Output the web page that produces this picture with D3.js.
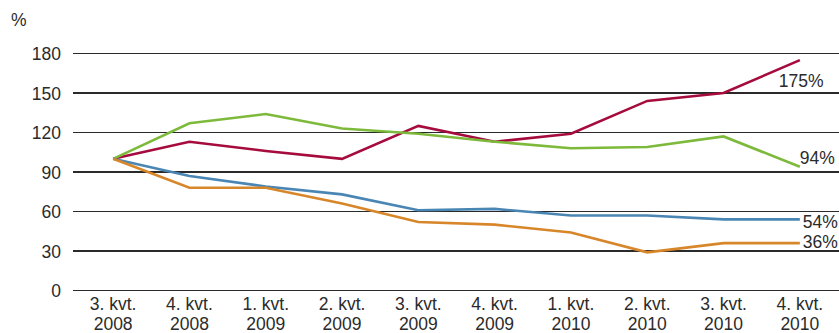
<!DOCTYPE html>
<html>
<head>
<meta charset="utf-8">
<script src="https://cdn.jsdelivr.net/npm/d3@7"></script>
<style>
  html, body { margin: 0; padding: 0; background: #fff; }
  svg { display: block; font-family: "Liberation Sans", Arial, sans-serif; }
</style>
</head>
<body>
<svg id="chart" width="839" height="333"></svg>
<script>
// Quarter categories (two-line labels)
const quarters = [
  ["3. kvt.", "2008"], ["4. kvt.", "2008"], ["1. kvt.", "2009"], ["2. kvt.", "2009"],
  ["3. kvt.", "2009"], ["4. kvt.", "2009"], ["1. kvt.", "2010"], ["2. kvt.", "2010"],
  ["3. kvt.", "2010"], ["4. kvt.", "2010"]
];
const yTicks = [0, 30, 60, 90, 120, 150, 180];

// Index series (3. kvt. 2008 = 100)
const redSeries    = [100, 113, 106, 100, 125, 113, 119, 144, 150, 175];
const greenSeries  = [100, 127, 134, 123, 119, 113, 108, 109, 117, 94];
const blueSeries   = [100, 87, 79, 73, 61, 62, 57, 57, 54, 54];
const orangeSeries = [100, 78, 78, 66, 52, 50, 44, 29, 36, 36];

const endLabels = ["175%", "94%", "54%", "36%"];

const series = [
  { values: redSeries,    color: "#a50b3c", label: endLabels[0], dx: -21, dy: 27 },
  { values: greenSeries,  color: "#7dba3b", label: endLabels[1], dx: 0,   dy: -3 },
  { values: blueSeries,   color: "#4a86b4", label: endLabels[2], dx: 3,   dy: 9 },
  { values: orangeSeries, color: "#d8862a", label: endLabels[3], dx: 3,   dy: 5 }
];

const svg = d3.select("#chart");
const plotLeft = 73, plotRight = 839, plotTop = 53.5, plotBottom = 290.5;

const x = d3.scaleBand()
  .domain(d3.range(quarters.length))
  .range([75, 838]);
const y = d3.scaleLinear().domain([0, 180]).range([plotBottom, plotTop]);

// Horizontal gridlines
svg.append("g")
  .selectAll("line")
  .data(yTicks)
  .join("line")
  .attr("x1", plotLeft).attr("x2", plotRight)
  .attr("y1", d => y(d)).attr("y2", d => y(d))
  .attr("stroke", "#2a2a2a")
  .attr("stroke-width", 1.2)
  .attr("shape-rendering", "crispEdges");

// Y tick labels
svg.append("g")
  .selectAll("text")
  .data(yTicks)
  .join("text")
  .attr("x", 61)
  .attr("y", d => y(d) + 6.5)
  .attr("text-anchor", "end")
  .attr("font-size", 17.5)
  .attr("fill", "#2b2b2b")
  .text(d => d);

// Unit label
svg.append("text")
  .attr("x", 11).attr("y", 26)
  .attr("font-size", 17.5)
  .attr("fill", "#2b2b2b")
  .text("%");

// X category labels
const cx = i => x(i) + x.bandwidth() / 2;
const xl = svg.append("g")
  .selectAll("text")
  .data(quarters)
  .join("text")
  .attr("text-anchor", "middle")
  .attr("font-size", 17.5)
  .attr("fill", "#2b2b2b");
xl.append("tspan").attr("x", (d, i) => cx(i)).attr("y", 310).text(d => d[0]);
xl.append("tspan").attr("x", (d, i) => cx(i)).attr("y", 329.5).text(d => d[1]);

// Series lines
const line = d3.line()
  .x((d, i) => cx(i))
  .y(d => y(d));

svg.append("g")
  .selectAll("path")
  .data(series)
  .join("path")
  .attr("d", s => line(s.values))
  .attr("fill", "none")
  .attr("stroke", s => s.color)
  .attr("stroke-width", 2.6)
  .attr("stroke-linejoin", "miter");

// End-value labels
const last = quarters.length - 1;
svg.append("g")
  .selectAll("text")
  .data(series)
  .join("text")
  .attr("x", s => cx(last) + s.dx)
  .attr("y", s => y(s.values[last]) + s.dy)
  .attr("font-size", 17.5)
  .attr("fill", "#2b2b2b")
  .text(s => s.label);
</script>
</body>
</html>
